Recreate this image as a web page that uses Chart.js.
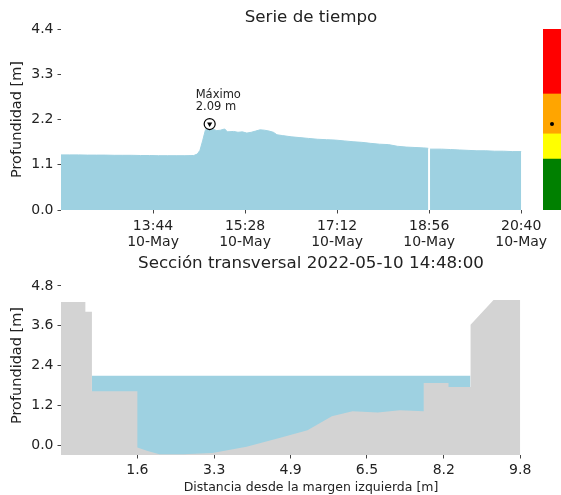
<!DOCTYPE html>
<html>
<head>
<meta charset="utf-8">
<title>Serie de tiempo</title>
<script src="https://cdn.jsdelivr.net/npm/chart.js@4"></script>
<style>
  body { margin: 0; background: #fff; }
  #wrap { position: relative; width: 561px; height: 495px; }
  canvas { position: absolute; }
</style>
</head>
<body>
<div id="wrap">
  <canvas id="seriesChart" width="561" height="250" style="left:0;top:0"></canvas>
  <canvas id="levelBar" width="18" height="181" style="left:543px;top:29px"></canvas>
  <canvas id="sectionChart" width="561" height="245" style="left:0;top:250px"></canvas>
</div>
<script>
// time series (10-May)
const seriesStart = '12:00';
const seriesTimes = [
  '12:00','12:10','12:20','12:30','12:40','12:50','13:00','13:10','13:20','13:30',
  '13:40','13:50','14:00','14:10','14:20','14:30','14:34','14:37','14:40','14:43',
  '14:45','14:47','14:48','14:49','14:52','14:56','15:00','15:05','15:08','15:15',
  '15:20','15:25','15:30','15:35','15:40','15:45','15:50','15:55','16:00','16:04',
  '16:10','16:20','16:30','16:40','16:50','17:00','17:10','17:20','17:30','17:40',
  '17:50','18:00','18:10','18:20','18:30','18:40','18:50','18:55','18:56','18:57',
  '19:10','19:20','19:30','19:40','19:50','20:00','20:10','20:20','20:30','20:40'
];
const seriesDepths = [
  1.34, 1.34, 1.34, 1.335, 1.335, 1.335, 1.33, 1.33, 1.33, 1.325,
  1.325, 1.32, 1.32, 1.32, 1.32, 1.325, 1.36, 1.45, 1.68, 1.93,
  2.00, 1.99, 2.09, 1.98, 1.96, 1.93, 1.94, 1.97, 1.90, 1.91,
  1.89, 1.90, 1.87, 1.89, 1.92, 1.95, 1.94, 1.92, 1.89, 1.83,
  1.81, 1.78, 1.76, 1.74, 1.72, 1.71, 1.70, 1.68, 1.66, 1.645,
  1.62, 1.60, 1.59, 1.55, 1.53, 1.52, 1.51, 1.50, null, 1.48,
  1.48, 1.47, 1.46, 1.45, 1.44, 1.44, 1.43, 1.43, 1.42, 1.42
];
const seriesTimeTicks = ['13:44', '15:28', '17:12', '18:56', '20:40'];
const seriesDate = '10-May';
const seriesDepthTicks = [0, 1.1, 2.2, 3.3, 4.4];

// alert levels for the colour bar
const levelLimits = [1.24, 1.85, 2.82, 4.4];
const levelColors = ['#008000', '#ffff00', '#ffa500', '#ff0000'];

// cross section
const sectionTime = '2022-05-10 14:48:00';
const bedX = [0, 0.52, 0.52, 0.66, 0.66, 1.63, 1.63, 1.85, 2.10, 2.60, 3.23, 3.96, 4.66,
  5.26, 5.78, 6.22, 6.76, 7.23, 7.74, 7.74, 8.27, 8.27, 8.74, 8.74, 9.23, 9.80];
const bedY = [4.32, 4.32, 4.02, 4.02, 1.62, 1.62, -0.07, -0.18, -0.28, -0.28, -0.24, -0.05, 0.21,
  0.45, 0.87, 1.02, 0.98, 1.05, 1.02, 1.87, 1.87, 1.75, 1.75, 3.63, 4.38, 4.38];
const waterEdges = [0.66, 8.74];
const sectionXTicks = [1.63, 3.27, 4.9, 6.53, 8.17, 9.8];
const sectionYTicks = [0, 1.2, 2.4, 3.6, 4.8];

const waterColor = '#9ed1e1';
const groundColor = '#d3d3d3';
const textColor = '#222';

Chart.defaults.font.family = '"DejaVu Sans", sans-serif';
Chart.defaults.color = textColor;
Chart.defaults.animation = false;
Chart.defaults.plugins.legend.display = false;
Chart.defaults.plugins.tooltip.enabled = false;

function toMinutes(t) {
  const [h, m] = t.split(':').map(Number);
  const [h0, m0] = seriesStart.split(':').map(Number);
  return (h - h0) * 60 + (m - m0);
}

const seriesPoints = seriesTimes.map((t, i) => ({ x: toMinutes(t), y: seriesDepths[i] }));
const maxDepth = Math.max(...seriesDepths.filter(v => v !== null));
const maxX = toMinutes(seriesTimes[seriesDepths.indexOf(maxDepth)]);

const tickStyle = { drawOnChartArea: false, tickLength: 3.5, color: '#444', tickWidth: 1 };

// "Máximo" label above the marker
const maxLabel = {
  id: 'maxLabel',
  afterDatasetsDraw(chart) {
    const x = chart.scales.x.getPixelForValue(maxX);
    const y = chart.scales.y.getPixelForValue(maxDepth);
    const ctx = chart.ctx;
    ctx.save();
    ctx.font = '11.5px "DejaVu Sans"';
    ctx.fillStyle = textColor;
    ctx.textBaseline = 'middle';
    ctx.fillText('Máximo', x - 14, y - 29.5);
    ctx.fillText(maxDepth.toFixed(2) + ' m', x - 14, y - 17.5);
    ctx.restore();
  }
};

new Chart(document.getElementById('seriesChart'), {
  type: 'line',
  data: {
    datasets: [
      { data: [{ x: maxX, y: maxDepth }], showLine: false, pointStyle: 'triangle', rotation: 180,
        pointRadius: 3, pointBackgroundColor: '#000', pointBorderWidth: 0 },
      { data: [{ x: maxX, y: maxDepth }], showLine: false, pointStyle: 'circle',
        pointRadius: 5.5, pointBackgroundColor: '#fff', pointBorderColor: '#000', pointBorderWidth: 1.2 },
      { data: seriesPoints, fill: 'origin', backgroundColor: waterColor, borderColor: waterColor,
        borderWidth: 1, pointRadius: 0, tension: 0, spanGaps: false }
    ]
  },
  options: {
    responsive: false,
    devicePixelRatio: 1,
    layout: { padding: 0, autoPadding: false },
    plugins: {
      title: { display: true, text: 'Serie de tiempo', fullSize: false,
        font: { size: 16.7, weight: 'normal' }, padding: { top: 8, bottom: 1 } }
    },
    scales: {
      x: {
        type: 'linear', min: 0, max: 565,
        afterBuildTicks: s => { s.ticks = seriesTimeTicks.map(t => ({ value: toMinutes(t) })); },
        ticks: { autoSkip: false, maxRotation: 0, padding: 4, font: { size: 14 },
          callback: (v, i) => [seriesTimeTicks[i], seriesDate] },
        grid: tickStyle,
        border: { display: false },
        afterFit: s => { s.height = 40; }
      },
      y: {
        min: 0, max: 4.4,
        afterBuildTicks: s => { s.ticks = seriesDepthTicks.map(v => ({ value: v })); },
        ticks: { padding: 4, font: { size: 14 }, callback: v => v.toFixed(1) },
        grid: tickStyle,
        border: { display: false },
        title: { display: true, text: 'Profundidad [m]', font: { size: 14.5 }, padding: { top: 9, bottom: 0 } },
        afterFit: s => { s.width = 61; }
      }
    }
  },
  plugins: [maxLabel]
});

// colour bar with the current level
new Chart(document.getElementById('levelBar'), {
  type: 'bar',
  data: {
    labels: [''],
    datasets: [
      { type: 'line', data: [maxDepth], showLine: false, pointRadius: 2,
        pointBackgroundColor: '#000', pointBorderWidth: 0 }
    ].concat(levelColors.map((c, i) => ({
      data: [[i === 0 ? 0 : levelLimits[i - 1], levelLimits[i]]],
      backgroundColor: c, borderWidth: 0, grouped: false,
      barPercentage: 1, categoryPercentage: 1
    })))
  },
  options: {
    responsive: false,
    devicePixelRatio: 1,
    layout: { padding: 0, autoPadding: false },
    scales: {
      x: { display: false },
      y: { display: false, min: 0, max: levelLimits[levelLimits.length - 1] }
    }
  }
});

new Chart(document.getElementById('sectionChart'), {
  type: 'line',
  data: {
    datasets: [
      { data: bedX.map((x, i) => ({ x: x, y: bedY[i] })), fill: 'start', backgroundColor: groundColor,
        borderColor: 'rgba(0,0,0,0)', borderWidth: 0, pointRadius: 0, tension: 0 },
      { data: waterEdges.map(x => ({ x: x, y: maxDepth })), fill: 'start', backgroundColor: waterColor,
        borderColor: 'rgba(0,0,0,0)', borderWidth: 0, pointRadius: 0, tension: 0 }
    ]
  },
  options: {
    responsive: false,
    devicePixelRatio: 1,
    layout: { padding: 0, autoPadding: false },
    plugins: {
      title: { display: true, text: 'Sección transversal ' + sectionTime, fullSize: false,
        font: { size: 16.7, weight: 'normal' }, padding: { top: 4, bottom: 2 } }
    },
    scales: {
      x: {
        type: 'linear', min: 0, max: 10.67,
        afterBuildTicks: s => { s.ticks = sectionXTicks.map(v => ({ value: v })); },
        ticks: { autoSkip: false, maxRotation: 0, padding: 3.5, font: { size: 14 }, callback: v => v.toFixed(1) },
        grid: tickStyle,
        border: { display: false },
        title: { display: true, text: 'Distancia desde la margen izquierda [m]', font: { size: 12.5 },
          padding: { top: 2, bottom: 0 } },
        afterFit: s => { s.height = 40; }
      },
      y: {
        min: -0.3, max: 5.1,
        afterBuildTicks: s => { s.ticks = sectionYTicks.map(v => ({ value: v })); },
        ticks: { padding: 4, font: { size: 14 }, callback: v => v.toFixed(1) },
        grid: tickStyle,
        border: { display: false },
        title: { display: true, text: 'Profundidad [m]', font: { size: 14.5 }, padding: { top: 9, bottom: 0 } },
        afterFit: s => { s.width = 61; }
      }
    }
  }
});
</script>
</body>
</html>
